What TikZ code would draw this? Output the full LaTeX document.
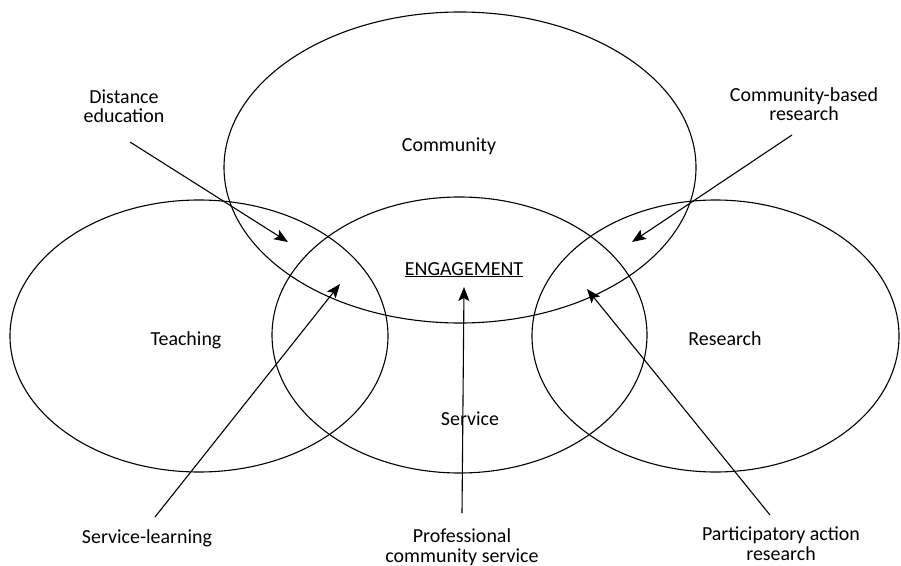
\documentclass[tikz,border=0pt]{standalone}
\usepackage{fontspec}
\setmainfont{Carlito}
\usetikzlibrary{arrows.meta}
\begin{document}
\begin{tikzpicture}[x=1bp,y=-1bp,
  ring/.style={draw=black,line width=1.1bp},
  lbl/.style={font=\fontsize{20}{20}\selectfont,inner sep=0pt,anchor=base,align=center},
  ptr/.style={draw=black,line width=1.1bp,-{Stealth[length=14bp,width=11bp,inset=3bp]}}]
\useasboundingbox (0,0) rectangle (901,566);
% circles
\draw[ring] (460,167.5) ellipse [x radius=236,y radius=155.5];
\draw[ring] (199,336) ellipse [x radius=189,y radius=136];
\draw[ring] (459.5,335) ellipse [x radius=187.5,y radius=138];
\draw[ring] (715.5,336) ellipse [x radius=183.5,y radius=136];
% labels (multi-line nodes: base = baseline of last line)
\node[lbl] (community) at (449,152) {Community};
\node[lbl] (engage) at (464,275) {\underline{ENGAGEMENT}};
\node[lbl] (teaching) at (186,345) {Teaching};
\node[lbl] (service) at (470,425) {Service};
\node[lbl] (research) at (725,345) {Research};
\node[lbl] (distance) at (124,123) {Distance\\education};
\node[lbl] (cbr) at (804,121) {Community-based\\research};
\node[lbl] (sl) at (147,543) {Service-learning};
\node[lbl] (pcs) at (462,562) {Professional\\community service};
\node[lbl] (par) at (781,560) {Participatory action\\research};
% arrow ends
\coordinate (deT) at (130,142); \coordinate (deH) at (288,242);
\coordinate (cbT) at (792,135); \coordinate (cbH) at (632,242);
\coordinate (slT) at (155,517); \coordinate (slH) at (340,284);
\coordinate (pcT) at (462,513); \coordinate (pcH) at (464,287);
\coordinate (paT) at (770,515); \coordinate (paH) at (587,289);
\draw[ptr] (deT) -- (deH);
\draw[ptr] (cbT) -- (cbH);
\draw[ptr] (slT) -- (slH);
\draw[ptr] (pcT) -- (pcH);
\draw[ptr] (paT) -- (paH);
\end{tikzpicture}
\end{document}
